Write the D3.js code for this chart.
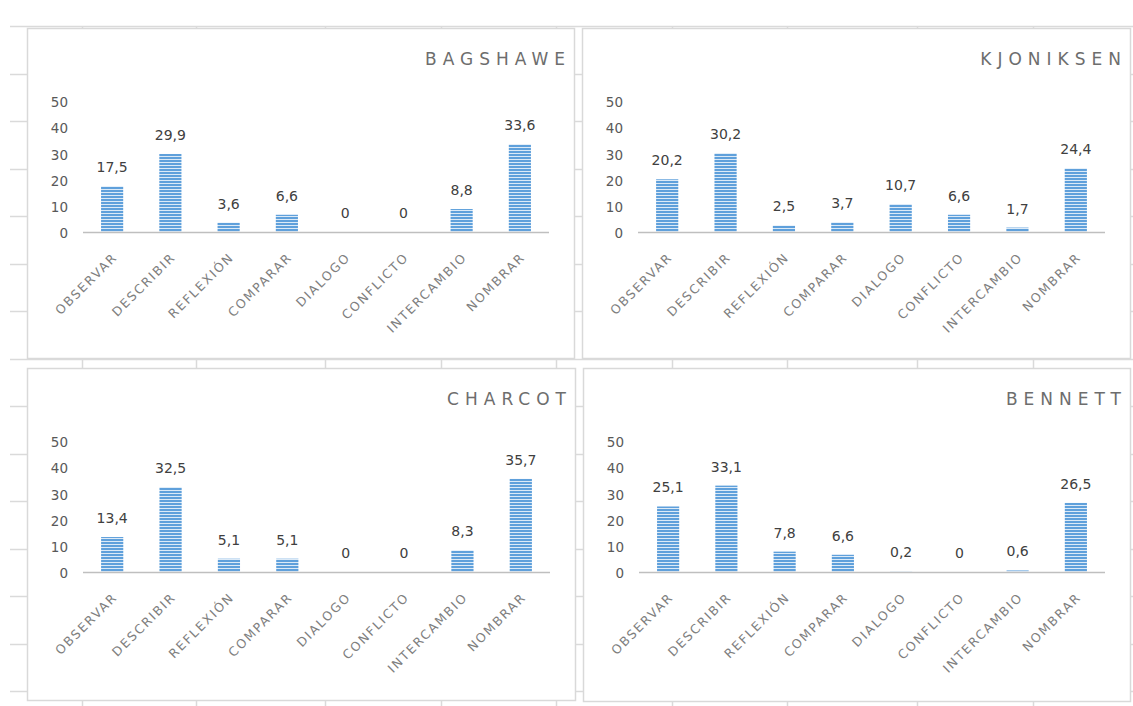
<!DOCTYPE html>
<html>
<head>
<meta charset="utf-8">
<script src="https://cdn.jsdelivr.net/npm/d3@7/dist/d3.min.js"></script>
<style>
  html, body { margin: 0; padding: 0; background: #ffffff; }
  svg { display: block; }
</style>
</head>
<body>
<svg id="chart" width="1133" height="706"></svg>
<script>
// Categories shared by every panel
const categories = ["OBSERVAR", "DESCRIBIR", "REFLEXIÓN", "COMPARAR", "DIALOGO", "CONFLICTO", "INTERCAMBIO", "NOMBRAR"];

// Panel titles and their percentages
const titles = ["BAGSHAWE", "KJONIKSEN", "CHARCOT", "BENNETT"];
const bagshawe  = [17.5, 29.9, 3.6, 6.6, 0, 0, 8.8, 33.6];
const kjoniksen = [20.2, 30.2, 2.5, 3.7, 10.7, 6.6, 1.7, 24.4];
const charcot   = [13.4, 32.5, 5.1, 5.1, 0, 0, 8.3, 35.7];
const bennett   = [25.1, 33.1, 7.8, 6.6, 0.2, 0, 0.6, 26.5];
const seriesList = [bagshawe, kjoniksen, charcot, bennett];

// Value axis ticks
const yTicks = [0, 10, 20, 30, 40, 50];

const W = 1133, H = 706;
const svg = d3.select("#chart");

// Bar fill: narrow horizontal stripes
const defs = svg.append("defs");
const pat = defs.append("pattern")
  .attr("id", "hstripes")
  .attr("patternUnits", "userSpaceOnUse")
  .attr("width", 8).attr("height", 3);
pat.append("rect").attr("width", 8).attr("height", 3).attr("fill", "#5fa0db");
pat.append("rect").attr("y", 2).attr("width", 8).attr("height", 1).attr("fill", "#dceaf7");

// Worksheet cell grid behind the charts
const rowLines = d3.range(15).map(i => 26 + i * 47.5);
const colLines = [82, 196, 325, 441, 556, 672, 787, 917, 1033];
const grid = svg.append("g").attr("stroke", "#dadada").attr("stroke-width", 1.5);
grid.selectAll("line.r").data(rowLines).join("line")
  .attr("class", "r")
  .attr("x1", 10).attr("x2", W)
  .attr("y1", d => Math.round(d) + 0.5).attr("y2", d => Math.round(d) + 0.5);
grid.selectAll("line.c").data(colLines).join("line")
  .attr("class", "c")
  .attr("y1", 26).attr("y2", H)
  .attr("x1", d => d + 0.5).attr("x2", d => d + 0.5);

// Panel frames (2 x 2)
const frames = [
  { x: 27,  y: 28,  w: 547, h: 330 },
  { x: 582, y: 28,  w: 548, h: 330 },
  { x: 27,  y: 368, w: 548, h: 332 },
  { x: 583, y: 368, w: 547, h: 333 }
];

const fmt = v => String(v).replace(".", ",");

frames.forEach((f, i) => {
  const values = seriesList[i];
  const g = svg.append("g").attr("transform", `translate(${f.x},${f.y})`);

  g.append("rect")
    .attr("x", 0.5).attr("y", 0.5)
    .attr("width", f.w).attr("height", f.h)
    .attr("fill", "#ffffff")
    .attr("stroke", "#d9d9d9").attr("stroke-width", 1.5);

  const x0 = 56, x1 = f.w - 25;
  const base = 204;

  const x = d3.scaleBand().domain(categories).range([x0, x1]).paddingInner(0.62).paddingOuter(0.31);
  const y = d3.scaleLinear().domain([0, 50]).range([base, base - 130.5]);

  // Title
  g.append("text")
    .attr("x", f.w - 3).attr("y", 37)
    .attr("text-anchor", "end")
    .attr("font-family", "DejaVu Sans, sans-serif")
    .attr("font-size", 17)
    .attr("letter-spacing", 6)
    .attr("fill", "#6d6d6d")
    .text(titles[i]);

  // Value axis labels (no axis line)
  const yAxis = d3.axisLeft(y).tickValues(yTicks).tickSize(0).tickPadding(0);
  const ya = g.append("g").attr("transform", `translate(${x0 - 15},1)`).call(yAxis);
  ya.select(".domain").remove();
  ya.selectAll("text")
    .attr("font-family", "DejaVu Sans, sans-serif")
    .attr("font-size", 13.5)
    .attr("fill", "#595959");

  // Bars
  g.selectAll("rect.bar").data(values).join("rect")
    .attr("class", "bar")
    .attr("x", (d, j) => x(categories[j]))
    .attr("width", x.bandwidth())
    .attr("y", d => y(d))
    .attr("height", d => base - y(d))
    .attr("fill", "url(#hstripes)");

  // Category axis
  const xAxis = d3.axisBottom(x).tickSize(0).tickPadding(0);
  const xa = g.append("g").attr("transform", `translate(0,${base})`).call(xAxis);
  xa.select(".domain").attr("stroke", "#bfbfbf").attr("stroke-width", 1.3)
    .attr("d", `M${x0},0.5H${x1}`);
  xa.selectAll("text")
    .attr("font-family", "DejaVu Sans, sans-serif")
    .attr("font-size", 12.5)
    .attr("letter-spacing", 1.8)
    .attr("fill", "#7f7f7f")
    .attr("text-anchor", "end")
    .attr("dy", 0)
    .attr("y", 0)
    .attr("transform", "translate(6,26) rotate(-45)");

  // Data labels
  g.selectAll("text.val").data(values).join("text")
    .attr("class", "val")
    .attr("x", (d, j) => x(categories[j]) + x.bandwidth() / 2)
    .attr("y", d => y(d) - 14)
    .attr("text-anchor", "middle")
    .attr("font-family", "DejaVu Sans, sans-serif")
    .attr("font-size", 14)
    .attr("fill", "#404040")
    .text(d => fmt(d));
});
</script>
</body>
</html>
